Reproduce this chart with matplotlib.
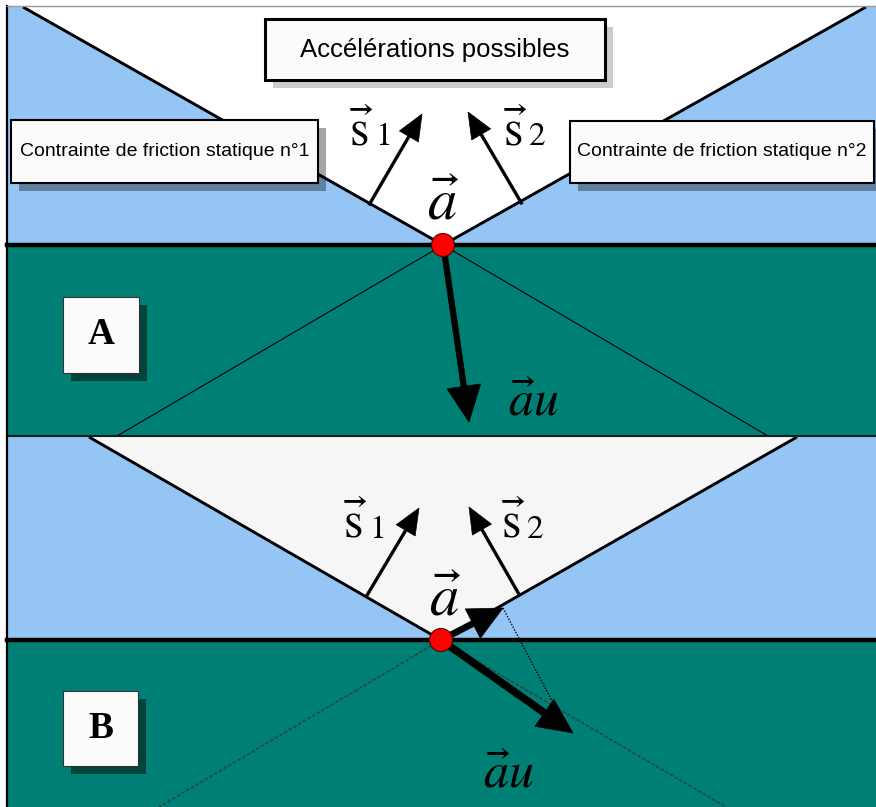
import matplotlib
matplotlib.use("Agg")
import matplotlib.pyplot as plt
from matplotlib.patches import Polygon, Rectangle, Circle

plt.rcParams['mathtext.fontset'] = 'stix'

# ---------------- data (pixel geometry of the diagram) ----------------
W, H = 876, 807
BLUE = '#95c5f4'
TEAL = '#008074'
# horizontal bands
band_A_top = (7, 245)      # light-blue zone, panel A
band_A_bot = (245, 436)    # teal zone, panel A
band_B_top = (436, 640)    # light-blue zone, panel B
band_B_bot = (640, 807)    # teal zone, panel B
# cone of possible accelerations
coneA = [(23, 7), (866, 7), (443, 245)]
coneB = [(89, 437), (797, 437), (441, 640)]
# friction cone continuation below the surface
lowA_ends = [(117, 436), (768, 436)]
lowB_ends = [(159, 807), (726, 807)]
# contact points
pointA = (443, 245)
pointB = (441, 640)
# vectors: (tail, tip)
s1A = ((369, 205), (422, 114)); s2A = ((522, 204), (468, 112))
s1B = ((366, 597), (419, 508)); s2B = ((520, 596), (469, 507))
auA = ((444, 250), (469, 422))
aB = ((441, 640), (503, 608))
auB = ((441, 640), (573, 733))
dotted = ((503, 608), (560, 716))
# boxes: (x0, y0, x1, y1)
box_title = (265, 19, 605, 80)
box_c1 = (11, 120, 318, 183)
box_c2 = (570, 121, 874, 183)
box_A = (63, 297, 139, 373)
box_B = (63, 691, 138, 766)
title_text = "Accélérations possibles"
c1_text = "Contrainte de friction statique n°1"
c2_text = "Contrainte de friction statique n°2"

# ---------------- figure ----------------
fig = plt.figure(figsize=(W / 100, H / 100), dpi=100)
ax = fig.add_axes([0, 0, 1, 1])
ax.set_xlim(0, W)
ax.set_ylim(H, 0)
ax.axis('off')

def band(y, color):
    ax.add_patch(Rectangle((7, y[0]), W - 7, y[1] - y[0], facecolor=color,
                           edgecolor='none', zorder=1))

band(band_A_top, BLUE)
band(band_A_bot, TEAL)
band(band_B_top, BLUE)
band(band_B_bot, TEAL)

ax.add_patch(Polygon(coneA, closed=True, facecolor='white', edgecolor='none', zorder=2))
ax.add_patch(Polygon(coneB, closed=True, facecolor='#f6f6f6', edgecolor='none', zorder=2))
for cone in (coneA, coneB):
    for p in (cone[0], cone[1]):
        ax.plot([p[0], cone[2][0]], [p[1], cone[2][1]], color='black', lw=2.1,
                zorder=3, solid_capstyle='butt')

for e in lowA_ends:
    ax.plot([pointA[0], e[0]], [pointA[1], e[1]], color='black', lw=0.8, zorder=3)
for e in lowB_ends:
    ax.plot([pointB[0], e[0]], [pointB[1], e[1]], color='#1d4d47', lw=1.3,
            ls=(0, (2, 1)), zorder=3)

# surface lines
ax.plot([7, W], [band_A_top[1], band_A_top[1]], color='black', lw=3.2, zorder=4)
ax.plot([7, W], [band_B_top[1], band_B_top[1]], color='black', lw=3.2, zorder=4)
ax.plot([7, W], [band_A_bot[1], band_A_bot[1]], color='#0a1f1c', lw=1.5, zorder=4)
# frame
ax.plot([7, 7], [6, H], color='black', lw=1.6, zorder=6)
ax.plot([7, W], [6, 6], color='#999999', lw=1.0, zorder=6)

def arrow(v, width, hw, hl, z=7):
    (x0, y0), (x1, y1) = v
    ax.arrow(x0, y0, x1 - x0, y1 - y0, width=width, head_width=hw, head_length=hl,
             length_includes_head=True, facecolor='black', edgecolor='black',
             lw=0.5, zorder=z)

for v in (s1A, s2A, s1B, s2B):
    arrow(v, 2.6, 22, 26)
arrow(auA, 5.5, 34, 36)
arrow(aB, 6.0, 33, 34, z=8)
arrow(auB, 7.0, 33, 35, z=8)
ax.plot([dotted[0][0], dotted[1][0]], [dotted[0][1], dotted[1][1]], color='black',
        lw=0.9, ls=(0, (1.2, 1.2)), zorder=6)

for p in (pointA, pointB):
    ax.add_patch(Circle(p, 11.5, facecolor='#ff0000', edgecolor='#550000', lw=0.8, zorder=9))

def box(b, text, fs, shadow, off, lw, edge='black', family='Liberation Sans',
        weight='normal', salpha=1.0):
    x0, y0, x1, y1 = b
    ax.add_patch(Rectangle((x0 + off, y0 + off), x1 - x0, y1 - y0, facecolor=shadow,
                           edgecolor='none', alpha=salpha, zorder=10))
    ax.add_patch(Rectangle((x0, y0), x1 - x0, y1 - y0, facecolor='#fbfbfb',
                           edgecolor=edge, lw=lw, zorder=11))
    ax.text((x0 + x1) / 2, (y0 + y1) / 2, text, fontsize=fs, family=family,
            weight=weight, ha='center', va='center', zorder=12)

box(box_title, title_text, 18.5, 'black', 8, 2.2, salpha=0.2)
box(box_c1, c1_text, 14, 'black', 8, 1.5, salpha=0.35)
box(box_c2, c2_text, 14, 'black', 8, 1.5, salpha=0.35)
box(box_A, "A", 27, '#00443c', 8, 0.8, edge='#333333', family='Liberation Serif', weight='bold')
box(box_B, "B", 27, '#00443c', 8, 0.8, edge='#333333', family='Liberation Serif', weight='bold')

# vector labels
def slabel(x, y, idx):
    ax.text(x, y, r'$\vec{\mathrm{s}}$', fontsize=36, ha='center', va='baseline', zorder=12)
    ax.text(x + 14, y, idx, fontsize=24, family='STIXGeneral', ha='left', va='baseline', zorder=12)

slabel(361, 145, '1'); slabel(515, 145, '2')
slabel(355, 538, '1'); slabel(513, 538, '2')
ax.text(443, 220, r'$\vec{a}$', fontsize=42, ha='center', va='baseline', zorder=12)
ax.text(445, 615, r'$\vec{a}$', fontsize=42, ha='center', va='baseline', zorder=12)
ax.text(533, 415, r'$\vec{a}u$', fontsize=36, ha='center', va='baseline', zorder=12)
ax.text(508, 788, r'$\vec{a}u$', fontsize=36, ha='center', va='baseline', zorder=12)

fig.savefig('out.png', dpi=100, facecolor='white')
